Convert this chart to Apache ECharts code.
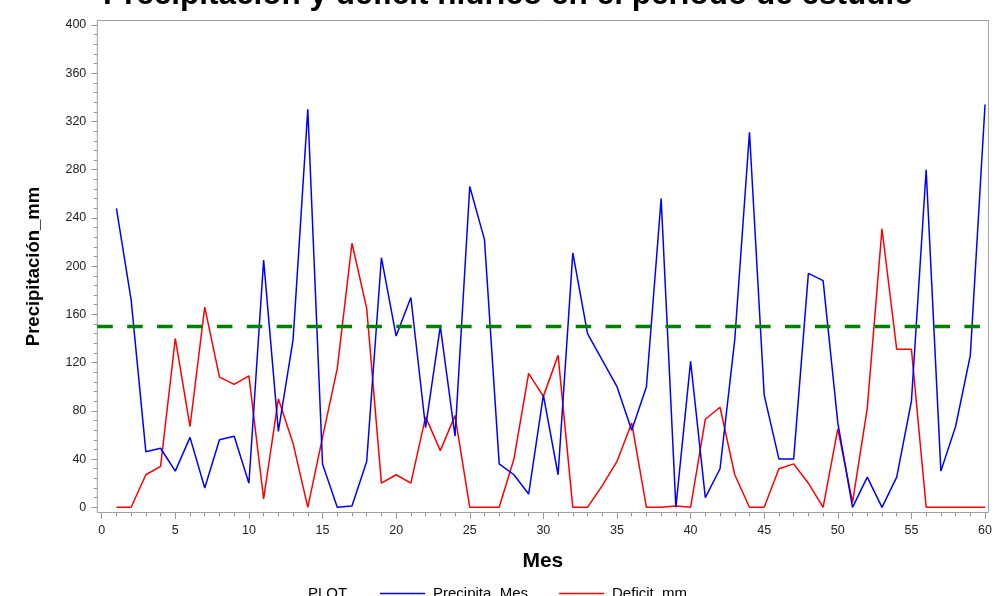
<!DOCTYPE html>
<html>
<head>
<meta charset="utf-8">
<script src="https://cdn.jsdelivr.net/npm/echarts@6/dist/echarts.min.js"></script>
<style>
html,body{margin:0;padding:0;background:#fff;}
#chart{width:995px;height:596px;}
</style>
</head>
<body>
<div id="chart"></div>
<script>
const months = [1,2,3,4,5,6,7,8,9,10,11,12,13,14,15,16,17,18,19,20,21,22,23,24,25,26,27,28,29,30,
  31,32,33,34,35,36,37,38,39,40,41,42,43,44,45,46,47,48,49,50,51,52,53,54,55,56,57,58,59,60];
const precipitaMes = [248,172,46,49,30,58,16,56,59,20,205,63,139,330,36,0,1,38,207,142,
  174,66,150,59,266,222,36,27,11,93,27,211,144,122,100,64,100,256,0,121,
  8,32,139,311,93,40,40,194,188,70,0,25,0,25,88,280,30,67,126,334];
const deficitMm = [0,0,27,34,140,67,166,108,102,109,7,90,53,0,58,115,219,165,20,27,
  20,75,47,76,0,0,0,40,111,92,126,0,0,18,38,70,0,0,1,0,
  73,83,27,0,0,32,36,20,0,65,4,82,231,131,131,0,0,0,0,0];
const referenceLevel = 150;
const xMajorTicks = [0,5,10,15,20,25,30,35,40,45,50,55,60];
const xMinorTicks = months.concat([0]);
const yMajorTicks = [0,40,80,120,160,200,240,280,320,360,400];
const yMinorTicks = [0,8,16,24,32,48,56,64,72,88,96,104,112,128,136,144,152,168,176,184,192,
  208,216,224,232,248,256,264,272,288,296,304,312,328,336,344,352,368,376,384,392];
const titleText = 'Precipitación y déficit hídrico en el período de estudio';
const seriesNames = ['Precipita_Mes','Deficit_mm'];

const FONT = '"Liberation Sans", Arial, sans-serif';
const xMin = -0.298, xMax = 60.23, yMin = -4.31, yMax = 403.73;
const tickColor = '#9a9a9a';

const chart = echarts.init(document.getElementById('chart'), null, {renderer:'canvas'});
const option = {
  animation: false,
  backgroundColor: '#fff',
  textStyle: {fontFamily: FONT},
  title: {
    text: titleText,
    left: 103, top: -21, padding: 0,
    textStyle: {fontFamily: FONT, fontSize: 31.5, fontWeight: 'bold', color: '#000'}
  },
  graphic: [{
    type: 'text', left: 308, top: 586,
    style: {text: 'PLOT', font: '15px ' + FONT, fill: '#000'}
  }],
  legend: {
    left: 380, top: 586, padding: 0,
    itemWidth: 45, itemHeight: 1.5, itemGap: 31,
    icon: 'rect',
    textStyle: {fontFamily: FONT, fontSize: 15, color: '#000', padding: [0,0,0,3]},
    data: seriesNames
  },
  grid: {
    left: 97.3, right: 4.3, top: 20.5, bottom: 83.5,
    show: true, borderColor: '#a0a0a0', borderWidth: 1, backgroundColor: '#fff',
    containLabel: false
  },
  xAxis: [{
    type: 'value', min: xMin, max: xMax, position: 'bottom',
    name: 'Mes', nameLocation: 'middle', nameGap: 38,
    nameTextStyle: {fontFamily: FONT, fontSize: 21, fontWeight: 'bold', color: '#000'},
    axisLine: {show: false, onZero: false},
    axisTick: {show: true, inside: false, customValues: xMajorTicks, length: 6.5, lineStyle: {color: tickColor}},
    axisLabel: {customValues: xMajorTicks, fontFamily: FONT, fontSize: 12.5, color: '#222', margin: 12},
    splitLine: {show: false}
  }, {
    type: 'value', min: xMin, max: xMax, position: 'bottom',
    axisLine: {show: false, onZero: false},
    axisTick: {show: true, inside: false, customValues: xMinorTicks, length: 4, lineStyle: {color: tickColor}},
    axisLabel: {show: false},
    splitLine: {show: false}
  }],
  yAxis: [{
    type: 'value', min: yMin, max: yMax, position: 'left',
    name: 'Precipitación_mm', nameLocation: 'middle', nameGap: 54,
    nameTextStyle: {fontFamily: FONT, fontSize: 18.5, fontWeight: 'bold', color: '#000'},
    axisLine: {show: false, onZero: false},
    axisTick: {show: true, inside: false, customValues: yMajorTicks, length: 6, lineStyle: {color: tickColor}},
    axisLabel: {customValues: yMajorTicks, fontFamily: FONT, fontSize: 12.5, color: '#222', margin: 11},
    splitLine: {show: false}
  }, {
    type: 'value', min: yMin, max: yMax, position: 'left',
    axisLine: {show: false, onZero: false},
    axisTick: {show: true, inside: false, customValues: yMinorTicks, length: 3.5, lineStyle: {color: tickColor}},
    axisLabel: {show: false},
    splitLine: {show: false}
  }],
  series: [{
    name: seriesNames[0], type: 'line', xAxisIndex: 0, yAxisIndex: 0,
    data: months.map((m, i) => [m, precipitaMes[i]]),
    symbol: 'none', showSymbol: false,
    lineStyle: {color: '#0000ff', width: 1.5},
    itemStyle: {color: '#0000ff'},
    markLine: {
      silent: true, symbol: 'none', label: {show: false},
      lineStyle: {color: '#008000', width: 3.3, type: [15.5, 14.4]},
      data: [{yAxis: referenceLevel}]
    },
    z: 3
  }, {
    name: seriesNames[1], type: 'line', xAxisIndex: 0, yAxisIndex: 0,
    data: months.map((m, i) => [m, deficitMm[i]]),
    symbol: 'none', showSymbol: false,
    lineStyle: {color: '#ff0000', width: 1.5},
    itemStyle: {color: '#ff0000'},
    z: 2
  }]
};
chart.setOption(option);
</script>
</body>
</html>
